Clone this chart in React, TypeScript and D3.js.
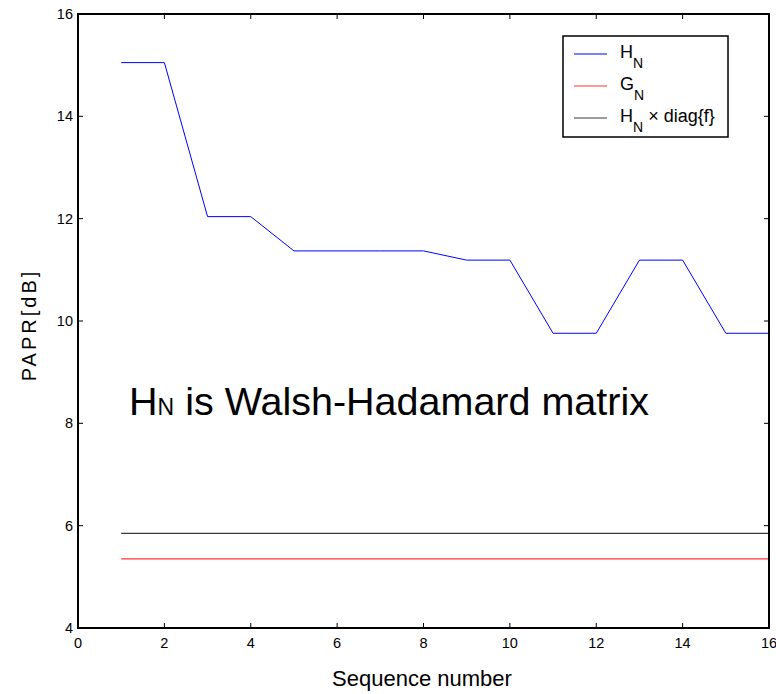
import React from "react";
import * as d3 from "d3";

const seqNumbers = [1, 2, 3, 4, 5, 6, 7, 8, 9, 10, 11, 12, 13, 14, 15, 16];
const hnValues = [15.05, 15.05, 12.04, 12.04, 11.37, 11.37, 11.37, 11.37, 11.19, 11.19, 9.76, 9.76, 11.19, 11.19, 9.76, 9.76];
const gnValues = [5.35, 5.35, 5.35, 5.35, 5.35, 5.35, 5.35, 5.35, 5.35, 5.35, 5.35, 5.35, 5.35, 5.35, 5.35, 5.35];
const hdiagValues = [5.85, 5.85, 5.85, 5.85, 5.85, 5.85, 5.85, 5.85, 5.85, 5.85, 5.85, 5.85, 5.85, 5.85, 5.85, 5.85];
const xTicks = [0, 2, 4, 6, 8, 10, 12, 14, 16];
const yTicks = [4, 6, 8, 10, 12, 14, 16];

const W = 776, H = 694;
const L = 78, R = 769, T = 14, B = 628;
const FONT = "'Liberation Sans', Arial, Helvetica, sans-serif";

export default function App() {
  const x = d3.scaleLinear().domain([0, 16]).range([L, R]);
  const y = d3.scaleLinear().domain([4, 16]).range([B, T]);
  const line = d3.line<number>().x((_, i) => x(seqNumbers[i])).y((d) => y(d));
  const tl = 5;
  return (
    <svg width={W} height={H} style={{ position: "absolute", left: 0, top: 0, background: "#fff" }} fontFamily={FONT}>
      <rect x={0} y={0} width={W} height={H} fill="#fff" />
      <path d={line(hdiagValues) || ""} fill="none" stroke="#3a3a3a" strokeWidth={1.2} />
      <path d={line(gnValues) || ""} fill="none" stroke="#ff3333" strokeWidth={1.2} />
      <path d={line(hnValues) || ""} fill="none" stroke="#0000ff" strokeWidth={1} />
      {xTicks.map((t) => (
        <g key={"x" + t}>
          <line x1={x(t)} x2={x(t)} y1={B} y2={B - tl} stroke="#000" />
          <line x1={x(t)} x2={x(t)} y1={T} y2={T + tl} stroke="#000" />
          <text x={x(t)} y={B + 20} fontSize={14.5} textAnchor="middle">{t}</text>
        </g>
      ))}
      {yTicks.map((t) => (
        <g key={"y" + t}>
          <line x1={L} x2={L + tl} y1={y(t)} y2={y(t)} stroke="#000" />
          <line x1={R} x2={R - tl} y1={y(t)} y2={y(t)} stroke="#000" />
          <text x={L - 5} y={y(t) + 5} fontSize={14.5} textAnchor="end">{t}</text>
        </g>
      ))}
      <rect x={L} y={T} width={R - L} height={B - T} fill="none" stroke="#000" strokeWidth={2} />
      <text x={422} y={686} fontSize={22} textAnchor="middle">Sequence number</text>
      <text transform={`translate(36,325) rotate(-90)`} fontSize={20} textAnchor="middle" letterSpacing={3}>PAPR[dB]</text>
      <text x={129} y={415} fontSize={39.5}>
        H<tspan fontSize={23}>N</tspan> is Walsh-Hadamard matrix
      </text>
      <g>
        <rect x={563} y={36} width={165} height={101} fill="#fff" stroke="#000" strokeWidth={1.5} />
        {[
          { c: "#0000ff", yy: 54, lbl: "H", sub: "N", extra: "" },
          { c: "#ff3333", yy: 86, lbl: "G", sub: "N", extra: "" },
          { c: "#3a3a3a", yy: 118, lbl: "H", sub: "N", extra: " \u00d7 diag{f}" },
        ].map((e, i) => (
          <g key={i}>
            <line x1={574} x2={607} y1={e.yy} y2={e.yy} stroke={e.c} />
            <text x={620} y={e.yy + 4} fontSize={18}>
              {e.lbl}
              <tspan dy={10} fontSize={14}>{e.sub}</tspan>
              <tspan dy={-10} fontSize={18}>{e.extra}</tspan>
            </text>
          </g>
        ))}
      </g>
    </svg>
  );
}
